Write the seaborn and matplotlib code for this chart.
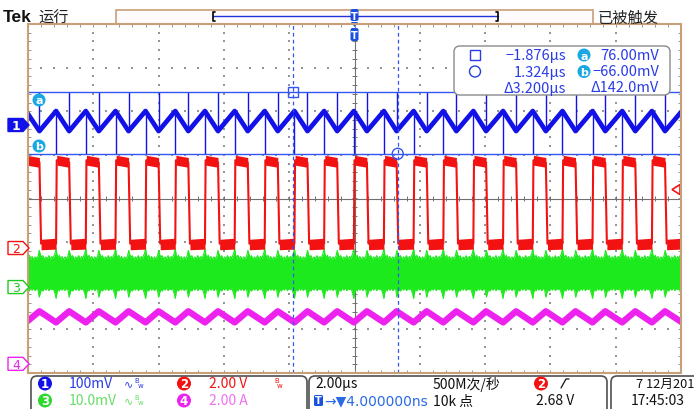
import numpy as np
import pandas as pd
import matplotlib
matplotlib.use("Agg")
import matplotlib.pyplot as plt
import seaborn as sns
from matplotlib.patches import FancyBboxPatch, Rectangle, Circle, Polygon

# ---------------- values ----------------
time_per_div_us = 2.0            # horizontal scale
# CH2 (switch node) edge times in microseconds
ch2_rise_us = [-10.06, -9.14, -8.23, -7.32, -6.40, -5.49, -4.58, -3.67, -2.75, -1.84,
               -0.93, -0.02, 0.90, 1.81, 2.72, 3.64, 4.55, 5.46, 6.37, 7.29, 8.20, 9.11, 10.03]
ch2_fall_us = [-9.65, -8.74, -7.83, -6.92, -6.00, -5.09, -4.18, -3.27, -2.35, -1.44,
               -0.53, 0.38, 1.29, 2.21, 3.12, 4.03, 4.95, 5.86, 6.77, 7.68, 8.60, 9.51, 10.43]

# channel settings: number, scale per div, position (div)
ch_labels = ["1", "2", "3", "4"]
ch_scale = [100.0, 2.0, 10.0, 2.0]           # mV, V, mV, A per div
ch_offset_div = [1.685, -1.135, -2.03, -3.79]
ch_scale_text = ["100mV", "2.00 V", "10.0mV", "2.00 A"]

# CH1 ripple (mV): level at CH2 rising edge / falling edge, spike extremes
ch1_at_rise_mV = 32.0
ch1_at_fall_mV = -14.0
ch1_spike_up_mV = 76.0
ch1_spike_down_mV = -66.0
# CH2 switch node bands (V): [bottom, top] at start and end of each level
ch2_high_start_V = [3.80, 4.25]
ch2_high_end_V = [3.70, 4.15]
ch2_low_start_V = [-0.08, 0.40]
ch2_low_end_V = [-0.05, 0.45]
ch2_trigger_V = 2.68
# CH3 noise envelope over one switching period (phase 0 = CH2 rising edge), mV
ch3_phase = [0.00, 0.03, 0.07, 0.11, 0.15, 0.20, 0.25, 0.30, 0.35, 0.40, 0.44, 0.47,
             0.51, 0.56, 0.61, 0.66, 0.71, 0.76, 0.81, 0.86, 0.90, 0.94, 0.97]
ch3_top_mV = [8.8, 7.4, 6.6, 7.3, 6.4, 7.0, 6.3, 6.9, 6.5, 7.1, 8.4, 7.6,
              6.8, 7.2, 6.3, 6.9, 6.5, 7.2, 6.4, 7.0, 6.6, 7.3, 7.8]
ch3_bot_mV = [-2.6, -1.2, -0.3, -0.9, -0.1, -0.7, -0.2, -0.8, -0.3, -0.6, -2.3, -1.4,
              -0.5, -0.9, -0.2, -0.7, -0.1, -0.8, -0.3, -0.6, -0.2, -1.0, -1.6]
# CH4 inductor current (A)
ch4_at_rise_A = 1.90
ch4_at_fall_A = 2.41

# cursors
cursor_t_us = [-1.876, 1.324]
cursor_v_mV = [76.0, -66.0]
readout_rows = [["\u22121.876\u00b5s", "76.00mV"], ["1.324\u00b5s", "\u221266.00mV"], ["\u03943.200\u00b5s", "\u0394142.0mV"]]

# status texts
status_time = "2.00\u00b5s"
status_rate = "500M\u6b21/\u79d2"
status_points = "10k \u70b9"
status_delay = "\u2192\u25bc4.000000ns"
status_trig = "2.68 V"
status_date = "7 12\u6708201"
status_clock = "17:45:03"

# ---------------- styling ----------------
sns.set_theme(style="white")
FONT = ['Liberation Sans Narrow', 'Noto Sans CJK SC', 'DejaVu Sans']
plt.rcParams['font.family'] = FONT
C_BLUE = "#1212E8"
C_RED = "#F21212"
C_GREEN = "#1CEA1C"
C_MAG = "#EE22EE"
C_CUR = "#3355F0"
C_CYAN = "#1AA8E4"
C_TXTBLUE = "#2A3CE6"

W, H = 694, 410
GX0, GX1, GY0, GY1 = 28, 681, 25, 374
fig = plt.figure(figsize=(W / 100, H / 100), dpi=100)
fig.patch.set_facecolor("white")
ax = fig.add_axes([GX0 / W, 1 - GY1 / H, (GX1 - GX0) / W, (GY1 - GY0) / H])
XL = 5 * time_per_div_us
ax.set_xlim(-XL, XL)
ax.set_ylim(-4, 4)
ax.axis("off")

ui = fig.add_axes([0, 0, 1, 1], zorder=5)
ui.set_xlim(0, W)
ui.set_ylim(H, 0)
ui.axis("off")
ui.patch.set_alpha(0)

PXD = (GX1 - GX0) / 10.0
PYD = (GY1 - GY0) / 8.0
def px(t):
    return (GX0 + GX1) / 2 + t / time_per_div_us * PXD
def py(d):
    return (GY0 + GY1) / 2 - d * PYD
def to_div(ch, v):
    return ch_offset_div[ch] + np.asarray(v, dtype=float) / ch_scale[ch]

# ---------------- graticule ----------------
grid_col = "#959595"
dot_y = np.arange(-4, 4.001, 0.2)
dot_x = np.arange(-XL, XL + 0.001, 0.2 * time_per_div_us)
for k in range(1, 10):
    if k == 5:
        continue
    xg = -XL + k * time_per_div_us
    ax.scatter(np.full_like(dot_y, xg), dot_y, s=1.5, marker="s", color=grid_col, linewidths=0, zorder=1)
for yg in [-3, -2, -1, 1, 2, 3]:
    ax.scatter(dot_x, np.full_like(dot_x, yg), s=1.5, marker="s", color=grid_col, linewidths=0, zorder=1)
ax.axvline(0, color="#707070", lw=0.8, zorder=1)
ax.axhline(0, color="#707070", lw=0.8, zorder=1)
ax.hlines(dot_y, -0.08, 0.08, color="#707070", lw=0.7, zorder=1)
ax.vlines(dot_x, -0.06, 0.06, color="#707070", lw=0.7, zorder=1)
ax.hlines(dot_y, -XL, -XL + 0.09, color=grid_col, lw=0.7, zorder=1)
ax.hlines(dot_y, XL - 0.09, XL, color=grid_col, lw=0.7, zorder=1)
ax.vlines(dot_x, 4 - 0.07, 4, color=grid_col, lw=0.7, zorder=1)
ax.vlines(dot_x, -4, -4 + 0.07, color=grid_col, lw=0.7, zorder=1)

# ---------------- traces ----------------
# CH4 current triangle
t4, v4 = [], []
for r, f in zip(ch2_rise_us, ch2_fall_us):
    t4 += [r, f]
    v4 += [ch4_at_rise_A, ch4_at_fall_A]
sns.lineplot(x=t4, y=to_div(3, v4), ax=ax, color=C_MAG, lw=4.6, estimator=None, sort=False, legend=False, zorder=3)

# CH3 noise band
t3, top3, bot3 = [], [], []
for i in range(len(ch2_rise_us) - 1):
    r, rn = ch2_rise_us[i], ch2_rise_us[i + 1]
    for ph, tp, bt in zip(ch3_phase, ch3_top_mV, ch3_bot_mV):
        t3.append(r + ph * (rn - r))
        top3.append(tp)
        bot3.append(bt)
ax.fill_between(t3, to_div(2, bot3), to_div(2, top3), color=C_GREEN, lw=0, zorder=3)
sns.lineplot(x=t3, y=to_div(2, top3), ax=ax, color=C_GREEN, lw=0.8, estimator=None, sort=False, legend=False, zorder=3)
sns.lineplot(x=t3, y=to_div(2, bot3), ax=ax, color=C_GREEN, lw=0.8, estimator=None, sort=False, legend=False, zorder=3)

# CH2 switch node
hi_c = np.mean(ch2_high_start_V)
lo_c = np.mean(ch2_low_end_V)
t2, v2 = [], []
for i in range(len(ch2_rise_us) - 1):
    r, f, rn = ch2_rise_us[i], ch2_fall_us[i], ch2_rise_us[i + 1]
    ax.fill_between([r + 0.02, f], to_div(1, [ch2_high_start_V[0], ch2_high_end_V[0]]),
                    to_div(1, [ch2_high_start_V[1], ch2_high_end_V[1]]), color=C_RED, lw=0, zorder=4)
    ax.fill_between([f + 0.05, rn], to_div(1, [ch2_low_start_V[0], ch2_low_end_V[0]]),
                    to_div(1, [ch2_low_start_V[1], ch2_low_end_V[1]]), color=C_RED, lw=0, zorder=4)
    t2 += [r, r + 0.02, f, f + 0.05]
    v2 += [lo_c, hi_c, np.mean(ch2_high_end_V), lo_c]
sns.lineplot(x=t2, y=to_div(1, v2), ax=ax, color=C_RED, lw=1.5, estimator=None, sort=False, legend=False, zorder=4)

# CH1 ripple with spikes
t1, v1 = [], []
for r, f in zip(ch2_rise_us, ch2_fall_us):
    t1 += [r, f]
    v1 += [ch1_at_rise_mV, ch1_at_fall_mV]
sns.lineplot(x=t1, y=to_div(0, v1), ax=ax, color=C_BLUE, lw=3.4, estimator=None, sort=False, legend=False, zorder=4)
ax.vlines(ch2_rise_us, to_div(0, ch1_spike_down_mV), to_div(0, ch1_at_rise_mV), color=C_BLUE, lw=1.0, zorder=4)
ax.vlines(ch2_fall_us, to_div(0, ch1_at_fall_mV), to_div(0, ch1_spike_up_mV), color=C_BLUE, lw=1.0, zorder=4)

# ---------------- cursors ----------------
for cv in cursor_v_mV:
    ax.axhline(to_div(0, cv), color=C_CUR, lw=1.0, zorder=5)
for ct in cursor_t_us:
    ax.axvline(ct, color=C_CUR, lw=0.9, ls=(0, (3, 2.5)), zorder=5)

# border
ui.add_patch(Rectangle((GX0, GY0), GX1 - GX0, GY1 - GY0, fill=False, ec="#C8A078", lw=1.5, zorder=2))

# cursor markers
ya, yb = py(to_div(0, cursor_v_mV[0])), py(to_div(0, cursor_v_mV[1]))
x1, x2 = px(cursor_t_us[0]), px(cursor_t_us[1])
ui.add_patch(Rectangle((x1 - 5, ya - 5), 10, 10, fill=False, ec=C_CUR, lw=1.0))
ui.add_patch(Circle((x2, yb), 5.5, fill=False, ec=C_CUR, lw=1.0))

def badge(x, y, s, color, r=6.5, fs=9):
    ui.add_patch(Circle((x, y), r, fc=color, ec="none"))
    ui.text(x, y + 0.5, s, color="white", fontsize=fs, fontweight="bold", ha="center", va="center",
            family=["DejaVu Sans"])

badge(39, 101, "a", C_CYAN, r=6.5, fs=8)
badge(39, 147, "b", C_CYAN, r=6.5, fs=8)

# channel position markers
def pointer(y, color, label, filled):
    pts = [(8, y - 6.5), (23, y - 6.5), (29, y), (23, y + 6.5), (8, y + 6.5)]
    ui.add_patch(Polygon(pts, closed=True, fc=color if filled else "white", ec=color, lw=1.0, zorder=6))
    ui.text(16, y + 0.5, label, color="white" if filled else color, fontsize=9, ha="center", va="center",
            fontweight="bold" if filled else "normal", family=["DejaVu Sans"], zorder=7)

pointer(py(ch_offset_div[0]), C_BLUE, "1", True)
pointer(py(ch_offset_div[1]), C_RED, "2", False)
pointer(py(ch_offset_div[2]), "#22C822", "3", False)
pointer(py(ch_offset_div[3]), C_MAG, "4", False)

# trigger level arrow (right)
yt = py(to_div(1, ch2_trigger_V))
ui.add_patch(Polygon([(672, yt), (680, yt - 5), (680, yt + 5)], closed=True, fc="white", ec=C_RED, lw=1.2))

# ---------------- readout box ----------------
ui.add_patch(FancyBboxPatch((454, 47), 216, 49, boxstyle="round,pad=0,rounding_size=6",
                            fc="white", ec="#8A8A8A", lw=1.0, zorder=6))
ui.add_patch(Rectangle((470, 51), 10, 10, fill=False, ec=C_TXTBLUE, lw=1.0, zorder=7))
ui.add_patch(Circle((475, 72.5), 5.5, fill=False, ec=C_TXTBLUE, lw=1.0, zorder=7))
row_y = [56, 72.5, 88.5]
for (lt, rt), yy in zip(readout_rows, row_y):
    ui.text(566, yy, lt, color=C_TXTBLUE, fontsize=10.5, ha="right", va="center", zorder=7)
    ui.text(659, yy, rt, color=C_TXTBLUE, fontsize=10.5, ha="right", va="center", zorder=7)
for s, yy in [("a", 56), ("b", 72.5)]:
    ui.add_patch(Circle((584, yy), 6.5, fc=C_CYAN, ec="none", zorder=7))
    ui.text(584, yy + 0.5, s, color="white", fontsize=8, fontweight="bold", ha="center", va="center",
            family=["DejaVu Sans"], zorder=8)

# ---------------- top bar ----------------
ui.text(3, 18, "Tek", fontsize=12.5, fontweight="bold", color="#111111", ha="left", va="center",
        family=["Liberation Sans", "DejaVu Sans"])
ui.text(38, 18, "\u8fd0\u884c", fontsize=11, color="#222222", ha="left", va="center", family=["Noto Sans CJK SC"])
ui.text(598, 18, "\u5df2\u88ab\u89e6\u53d1", fontsize=11, color="#222222", ha="left", va="center",
        family=["Noto Sans CJK SC"])
ui.add_patch(Rectangle((116, 11), 477, 13.5, fc="#FFFBFC", ec="#C8A078", lw=1.2))
ui.plot([213, 498], [17, 17], color="#2233DD", lw=1.0)
for xb, d in [(213, 1), (498, -1)]:
    ui.plot([xb + 2 * d, xb, xb, xb + 2 * d], [13, 13, 22, 22], color="black", lw=1.2)
ui.add_patch(FancyBboxPatch((350.5, 10), 8, 12, boxstyle="round,pad=0,rounding_size=2", fc="#1A52E0", ec="none"))
ui.text(354.5, 16.5, "T", color="white", fontsize=7, fontweight="bold", ha="center", va="center", family=["DejaVu Sans"])
ui.add_patch(Polygon([(351, 23), (358, 23), (354.5, 28)], closed=True, fc="#1A52E0", ec="none"))
ui.add_patch(FancyBboxPatch((350.5, 29), 8, 13, boxstyle="round,pad=0,rounding_size=2", fc="#1A52E0", ec="none"))
ui.text(354.5, 36, "T", color="white", fontsize=7, fontweight="bold", ha="center", va="center", family=["DejaVu Sans"])

# ---------------- status bar ----------------
for x0, w in [(31, 276), (309, 298), (611, 95)]:
    ui.add_patch(FancyBboxPatch((x0, 377), w, 40, boxstyle="round,pad=0,rounding_size=6",
                                fc="white", ec="#505050", lw=1.2))
r1, r2 = 384.5, 401.5
badge(45, r1, "1", C_BLUE, r=7, fs=8.5)
badge(45, r2, "3", "#2CD82C", r=7, fs=8.5)
badge(184, r1, "2", C_RED, r=7, fs=8.5)
badge(184, r2, "4", C_MAG, r=7, fs=8.5)
FS = 10
ui.text(69, r1, ch_scale_text[0], color=C_TXTBLUE, fontsize=FS, ha="left", va="center")
ui.text(69, r2, ch_scale_text[2], color="#66DD66", fontsize=FS, ha="left", va="center")
ui.text(209, r1, ch_scale_text[1], color=C_RED, fontsize=FS, ha="left", va="center")
ui.text(209, r2, ch_scale_text[3], color="#F070F0", fontsize=FS, ha="left", va="center")
for yy, col in [(r1, C_TXTBLUE), (r2, "#66DD66")]:
    ui.text(124, yy, "\u223f", color=col, fontsize=8, ha="left", va="center", family=["DejaVu Sans"])
    ui.text(134, yy - 3, "B", color=col, fontsize=5, ha="left", va="center", family=["DejaVu Sans"])
    ui.text(138, yy + 2, "w", color=col, fontsize=5, ha="left", va="center", family=["DejaVu Sans"])
ui.text(274, r1 - 3, "B", color=C_RED, fontsize=5, ha="left", va="center", family=["DejaVu Sans"])
ui.text(277, r1 + 2, "w", color=C_RED, fontsize=5, ha="left", va="center", family=["DejaVu Sans"])

ui.text(315, r1, status_time, color="#111111", fontsize=FS, ha="left", va="center")
ui.text(433, r1, status_rate, color="#111111", fontsize=FS, ha="left", va="center")
badge(541, r1, "2", C_RED, r=7, fs=8.5)
ui.plot([561, 566, 569], [389, 380, 380], color="#111111", lw=0.9)
ui.add_patch(FancyBboxPatch((314, 396), 9, 11, boxstyle="round,pad=0,rounding_size=1.5", fc="#1A52E0", ec="none"))
ui.text(318.5, r2, "T", color="white", fontsize=7, fontweight="bold", ha="center", va="center", family=["DejaVu Sans"])
ui.text(324, r2, status_delay, color="#2A6AE6", fontsize=FS, ha="left", va="center",
        family=["Liberation Sans Narrow", "DejaVu Sans"])
ui.text(433, r2, status_points, color="#111111", fontsize=FS, ha="left", va="center")
ui.text(536, r2, status_trig, color="#111111", fontsize=FS, ha="left", va="center")
ui.text(636, r1, status_date, color="#111111", fontsize=9.2, ha="left", va="center")
ui.text(631, r2, status_clock, color="#111111", fontsize=FS, ha="left", va="center")

fig.savefig("out.png", dpi=100)
